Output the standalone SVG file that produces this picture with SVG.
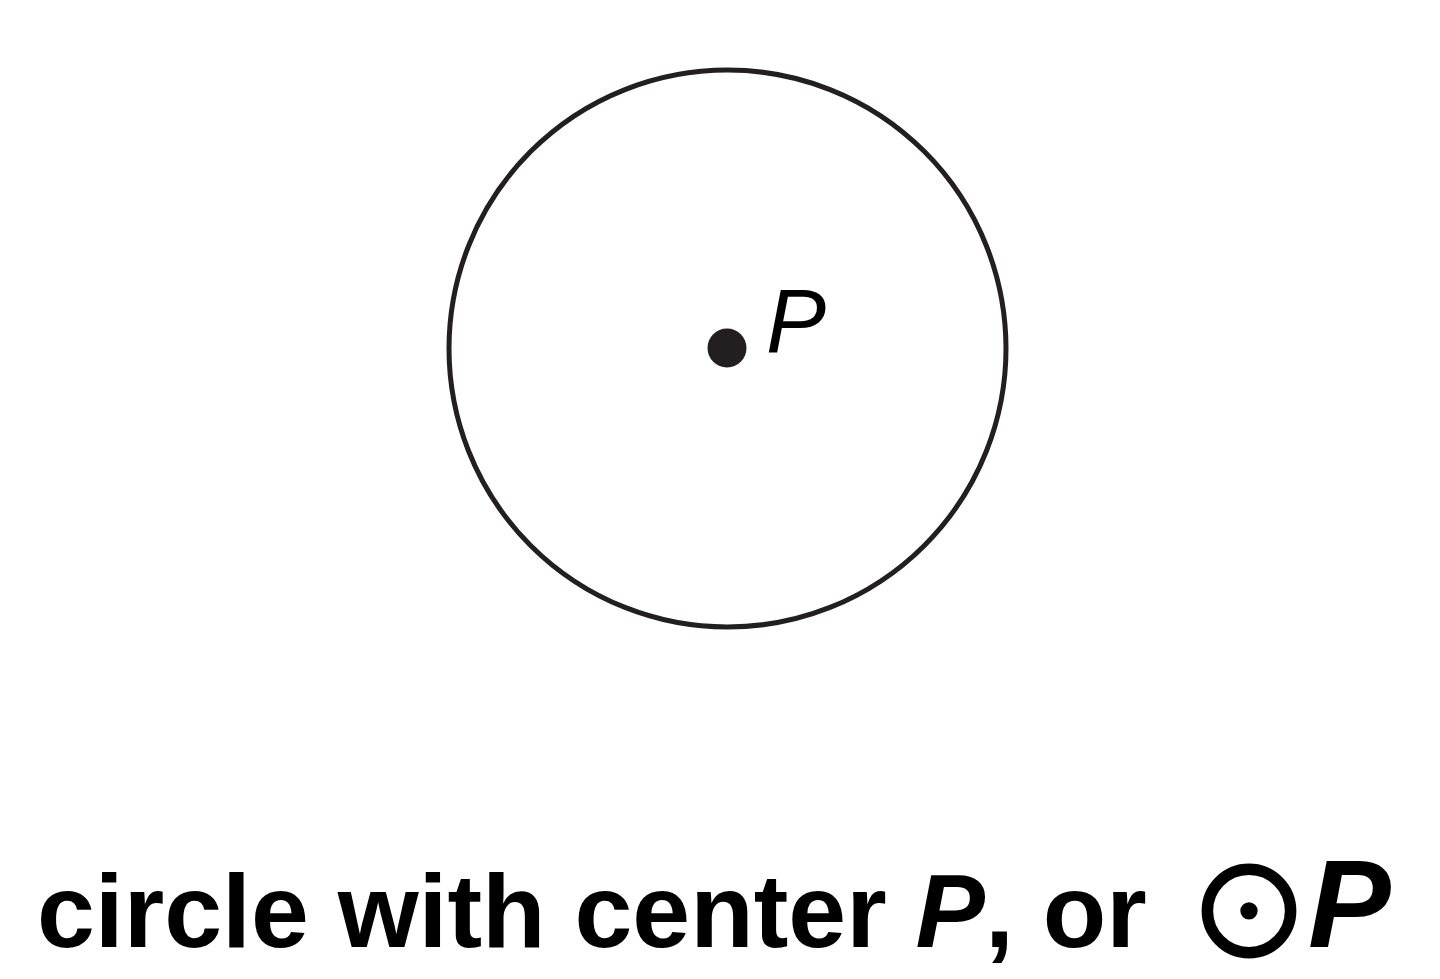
<svg xmlns="http://www.w3.org/2000/svg" width="1440" height="979" viewBox="0 0 1440 979">
<style>
.lbl{font-family:"Liberation Sans",Arial,sans-serif;fill:#000}
.b{font-weight:bold}
.i{font-style:italic}
</style>
<rect width="1440" height="979" fill="#fff"/>
<g id="circle-p">
<circle cx="727.5" cy="348.5" r="278.5" fill="none" stroke="#231f20" stroke-width="5"/>
<circle cx="727" cy="348" r="19.5" fill="#231f20"/>
<text class="lbl i" x="766" y="352" font-size="90" fill="#231f20">P</text>
</g>
<g id="caption">
<text class="lbl b" x="37" y="947" font-size="104">circle with center <tspan class="i">P</tspan>, or </text>
<text x="1187" y="958" font-family="Noto Sans CJK SC,sans-serif" font-size="124" stroke="#000" stroke-width="3">⊙</text>
<text class="lbl b i" x="1308" y="947" font-size="124">P</text>
</g>
<g id="connectors"/>
</svg>
